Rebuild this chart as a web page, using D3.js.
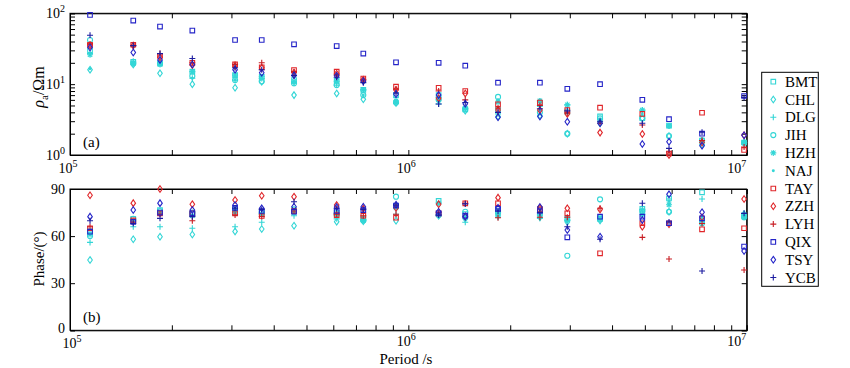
<!DOCTYPE html>
<html><head><meta charset="utf-8">
<script src="https://cdn.jsdelivr.net/npm/d3@7"></script>
<style>
body{margin:0;background:#fff;}
text{font-family:"Liberation Serif","Times New Roman",serif;fill:#000;}
</style></head>
<body><svg id="c" width="850" height="368"></svg>
<script>
const periods = [114600,153800,184500,229900,307500,368700,459300,614000,736000,919500,1229000,1473000,1841000,2448000,2950000,3686000,4915000,5894000,7379000,9823000];
const stations = ["BMT","CHL","DLG","JIH","HZH","NAJ","TAY","ZZH","LYH","QIX","TSY","YCB"];
const markers = ["square","diamond","plus","circle","star","dot","square","diamond","plus","square","diamond","plus"];
const colors = ["#33d6d6","#33d6d6","#33d6d6","#33d6d6","#33d6d6","#33d6d6","#e0262a","#e0262a","#c81e24","#2424c8","#2424c8","#1c1ca0"];

const rhoBMT = [30,20.7,19.7,15,13.4,12.7,11.4,11.1,8.3,7.0,7.0,4.4,4.3,5.2,4.1,3.5,3.3,2.6,1.6,1.5];
const rhoCHL = [16,19,14.2,10,8.9,10.8,7.0,7.4,6.1,5.4,6.0,4.2,3.5,3.6,2.0,2.8,3.3,1.85,1.4,1.49];
const rhoDLG = [27,21,20,12.1,11.4,12,10.3,9.7,8.3,5.4,5.25,4.5,3.8,5.8,5.1,3.2,4.3,2.57,1.6,1.5];
const rhoJIH = [42,19.5,19.5,13,11.4,11,10.3,9.7,7.0,5.5,6.0,4.4,6.6,4.0,2.0,3.3,3.3,1.85,1.6,1.49];
const rhoHZH = [26,20,19,15,13.4,12.7,11,11,8.3,5.8,6.5,4.6,5.6,5.8,5.1,3.0,4.3,2.57,1.5,1.5];
const rhoNAJ = [16.5,19,19,12.1,11.4,12.7,10.3,11,7.0,5.4,6.0,4.4,6.0,5.5,5.1,3.0,3.8,2.57,1.7,1.5];
const rhoTAY = [36,36,25,20,19,17.3,15.8,15,12,9.2,8.9,8.0,5.2,5.5,4.3,4.65,3.8,1.05,3.95,1.18];
const rhoZZH = [35,35,24,18.6,18,17,14.5,14,11.5,8.3,6.3,7.4,4.3,4.3,3.8,2.07,1.98,1.0,1.5,1.9];
const rhoLYH = [37,35,27,20,19,20,15,13.5,11.5,8.5,8.0,6.0,4.6,5.0,3.9,2.8,2.65,1.1,1.6,1.3];
const rhoQIX = [95,79,65,57,42,42,36.5,34.5,27,20.3,20,18.2,10.5,10.5,8.6,10,6.0,3.2,2.0,6.8];
const rhoTSY = [33,28,22,19,16,14.5,13.4,13.1,11,7.2,7.0,5.3,3.4,3.5,2.95,2.8,1.43,1.54,1.35,1.9];
const rhoYCB = [49,35,27,23,17,16,13.2,12.5,10.5,7.5,5.25,5.5,4.0,4.5,4.2,3.0,2.8,1.24,2.1,6.5];

const phBMT = [63,71,76.6,74,77,75,76,75,71,79,82.4,74,76,77,71,71,77.3,84,87.9,73];
const phCHL = [44.8,58,59.6,61,63,64.5,66.6,69.2,69.5,69.8,73,71,73,72,69,70,75,75.5,69,74];
const phDLG = [56,66,66,65,66,68.8,73,71,70.5,73.9,73,68.8,72,71.3,70,70.3,77,83.6,83.6,73];
const phJIH = [60,71,76,75,76,75,77,74,70,85.1,73.4,75.5,75,74,47.5,83.4,76,75.5,68.2,72];
const phHZH = [61,70,75,73,76,74,75,73,70,78,81,72,74,73,70.3,72,74,80,70,72];
const phNAJ = [62,70,75,73,76,74,75,72,69.8,79,74,71,73,72,69,71,73,82,72,74];
const phTAY = [65,70,74.5,74.5,74.5,72.8,76,73.4,73,71.7,74.5,80.9,80.9,77,74.5,49,68.2,68.2,64.3,65];
const phZZH = [86,81,90,80.3,83,85.7,85.1,79.8,77.5,78,80.3,72.5,84.5,78,77.7,77,66,67.5,72,83.6];
const phLYH = [66,69,74,69.8,73.5,72.5,76,74,73,73.9,75,80.9,71.7,72,72,77.7,59.2,45.4,68,38.4];
const phQIX = [62.8,69,75,74.5,78,76,75.5,76,76.6,79.5,74.5,73,77.3,76,59.2,72.4,72.4,68.2,71.3,53.3];
const phTSY = [72.4,76.6,81,76.6,79.8,77.7,78.7,78.5,78.7,80,75.5,72.4,78,78.5,63.9,59.6,70.3,86.6,75.2,50.5];
const phYCB = [69.8,68,71.3,72.4,77.7,77,81.9,77.7,77,79.8,73.4,80.5,76,75,66,58,80.9,69,37.8,74.5];

const rhoAll = [rhoBMT,rhoCHL,rhoDLG,rhoJIH,rhoHZH,rhoNAJ,rhoTAY,rhoZZH,rhoLYH,rhoQIX,rhoTSY,rhoYCB];
const phAll = [phBMT,phCHL,phDLG,phJIH,phHZH,phNAJ,phTAY,phZZH,phLYH,phQIX,phTSY,phYCB];

const svg = d3.select("#c");
const L = 70, R = 746.7;
const x = d3.scaleLog().domain([1e5,1e7]).range([L,R]);
const yR = d3.scaleLog().domain([1,100]).range([155,13.3]);
const yP = d3.scaleLinear().domain([0,90]).range([330.3,189]);

function markerPath(m){
  switch(m){
    case "square": return "M-2.3,-2.3H2.3V2.3H-2.3Z";
    case "diamond": return "M0,-3.3L2.3,0L0,3.3L-2.3,0Z";
    case "plus": return "M-3,0H3M0,-3V3";
    case "circle": return d3.symbol(d3.symbolCircle,20)();
    case "star": return "M-3,0H3M0,-3V3M-2.2,-2.2L2.2,2.2M-2.2,2.2L2.2,-2.2";
    case "dot": return d3.symbol(d3.symbolCircle,7)();
  }
}
function drawMarker(g,m,c,px,py){
  const p = g.append("path").attr("d",markerPath(m)).attr("transform",`translate(${px},${py})`);
  if(m==="dot") p.attr("fill",c).attr("stroke","none");
  else p.attr("fill","none").attr("stroke",c).attr("stroke-width",1.1);
}

const majorX = [1e5,1e6,1e7];
const minorX = [];
for(let e=5;e<7;e++) for(let k=2;k<=9;k++) minorX.push(k*Math.pow(10,e));
const tickX = majorX.concat(minorX);
const minorY = [];
for(let e=0;e<2;e++) for(let k=1;k<=9;k++) minorY.push(k*Math.pow(10,e));
minorY.push(100);

function panel(yScale, top, bottom, yTicks){
  const g = svg.append("g");
  g.append("g").attr("transform",`translate(0,${bottom})`).call(d3.axisBottom(x).tickValues(tickX).tickSize(-5).tickFormat(""));
  g.append("g").attr("transform",`translate(0,${top})`).call(d3.axisTop(x).tickValues(tickX).tickSize(-5).tickFormat(""));
  g.append("g").attr("transform",`translate(${L},0)`).call(d3.axisLeft(yScale).tickValues(yTicks).tickSize(-5).tickFormat(""));
  g.append("g").attr("transform",`translate(${R},0)`).call(d3.axisRight(yScale).tickValues(yTicks).tickSize(-5).tickFormat(""));
  g.selectAll(".domain").attr("stroke","#000").attr("stroke-width",1);
  g.selectAll(".tick line").attr("stroke","#000").attr("stroke-width",1);
  g.append("rect").attr("x",L).attr("y",top).attr("width",R-L).attr("height",bottom-top).attr("fill","none").attr("stroke","#000").attr("stroke-width",1);
  return g;
}

function powLabel(g,px,py,exp,anchor){
  const t = g.append("text").attr("x",px).attr("y",py).attr("font-size",14).attr("text-anchor",anchor);
  t.append("tspan").text("10");
  t.append("tspan").attr("dy",-6).attr("font-size",10).text(exp);
}

// top panel
const gA = panel(yR, 13.3, 155, minorY);
[0,1,2].forEach(e=>powLabel(gA, 65, yR(Math.pow(10,e))+5, String(e), "end"));
powLabel(gA, x(1e5)-2, 173, "5", "middle");
powLabel(gA, x(1e6)-2, 173, "6", "middle");
powLabel(gA, x(1e7)-10, 173, "7", "middle");
gA.append("text").attr("x",83).attr("y",147).attr("font-size",15).text("(a)");
const yl = gA.append("text").attr("transform","translate(44,87) rotate(-90)").attr("text-anchor","middle").attr("font-size",16);
yl.append("tspan").attr("font-style","italic").text("ρ");
yl.append("tspan").attr("dy",4).attr("font-size",11).text("a");
yl.append("tspan").attr("dy",-4).text("/Ωm");

// bottom panel
const gB = panel(yP, 189, 330.3, [0,30,60,90]);
[0,30,60,90].forEach(v=>gB.append("text").attr("x",65).attr("y",yP(v)+(v===0?3:5)).attr("text-anchor","end").attr("font-size",14).text(v));
powLabel(gB, x(1e5)+2, 348, "5", "middle");
powLabel(gB, x(1e6)-2, 346, "6", "middle");
powLabel(gB, x(1e7)-10, 346, "7", "middle");
gB.append("text").attr("x",83).attr("y",322).attr("font-size",15).text("(b)");
gB.append("text").attr("transform","translate(44,259) rotate(-90)").attr("text-anchor","middle").attr("font-size",15).text("Phase/(°)");
svg.append("text").attr("x",406).attr("y",364).attr("text-anchor","middle").attr("font-size",15).text("Period /s");

// points
const pts = svg.append("g");
stations.forEach((s,i)=>{
  periods.forEach((p,j)=>{
    const r = rhoAll[i][j];
    if(r!=null) drawMarker(pts, markers[i], colors[i], x(p), yR(r));
    const ph = phAll[i][j];
    if(ph!=null) drawMarker(pts, markers[i], colors[i], x(p), yP(ph));
  });
});

// legend
const lg = svg.append("g");
lg.append("rect").attr("x",761.7).attr("y",72.3).attr("width",56.6).attr("height",214).attr("fill","#fff").attr("stroke","#000").attr("stroke-width",1);
stations.forEach((s,i)=>{
  const yy = 81.7 + i*17.8;
  drawMarker(lg, markers[i], colors[i], 773.3, yy);
  lg.append("text").attr("x",785).attr("y",yy+5).attr("font-size",15).text(s);
});
</script></body></html>
